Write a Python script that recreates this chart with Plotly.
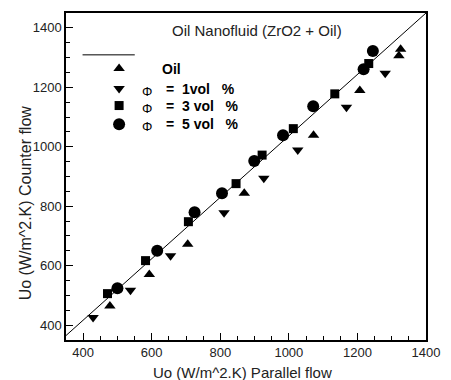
import plotly.graph_objects as go

# Overall heat transfer coefficient Uo (W/m^2.K): parallel flow (x) vs counter flow (y)
oil_x = [478, 593, 705, 870, 1072, 1207, 1321, 1326]
oil_y = [464, 570, 672, 844, 1039, 1189, 1306, 1328]

phi1_x = [429, 538, 655, 811, 927, 1026, 1168, 1281]
phi1_y = [426, 517, 633, 778, 894, 989, 1133, 1247]

phi3_x = [471, 582, 707, 846, 922, 1013, 1134, 1233]
phi3_y = [506, 617, 748, 876, 972, 1061, 1178, 1280]

phi5_x = [500, 616, 725, 805, 899, 983, 1071, 1218, 1245]
phi5_y = [524, 650, 780, 844, 952, 1039, 1136, 1261, 1322]

# reference line across the plot
ref_x = [350, 1400]
ref_y = [365, 1450]

tick_vals = [400, 600, 800, 1000, 1200, 1400]
tick_text = ["400", "600", "800", "1000", "1200", "1400"]

legend_labels = ["Oil", "=  1vol   %", "=  3 vol   %", "=  5 vol   %"]
legend_phi = ["", "\u03a6", "\u03a6", "\u03a6"]

FONT = "Liberation Sans, Arial, sans-serif"

series = [
    (oil_x, oil_y, "triangle-up", 10),
    (phi1_x, phi1_y, "triangle-down", 10),
    (phi3_x, phi3_y, "square", 9),
    (phi5_x, phi5_y, "circle", 12),
]

fig = go.Figure()

fig.add_trace(go.Scatter(
    x=ref_x, y=ref_y, mode="lines",
    line=dict(color="black", width=1), showlegend=False, hoverinfo="skip",
))

for xs, ys, sym, sz in series:
    fig.add_trace(go.Scatter(
        x=xs, y=ys, mode="markers",
        marker=dict(symbol=sym, size=sz, color="black", line=dict(width=0)),
        showlegend=False,
    ))

# hand-built key on a unit overlay axis
key_x = 0.1475
key_rows = [0.830, 0.769, 0.717, 0.660]
for (xs, ys, sym, sz), ky in zip(series, key_rows):
    fig.add_trace(go.Scatter(
        x=[key_x], y=[ky], mode="markers", xaxis="x2", yaxis="y2",
        marker=dict(symbol=sym, size=sz, color="black", line=dict(width=0)),
        showlegend=False, hoverinfo="skip",
    ))

annotations = []
for lab, phi, ky in zip(legend_labels, legend_phi, key_rows):
    if phi:
        annotations.append(dict(
            x=0.224, y=ky - 0.008, xref="paper", yref="paper", text=phi,
            showarrow=False, xanchor="center", yanchor="middle",
            font=dict(family=FONT, size=13, color="black"),
        ))
        lx = 0.272
    else:
        lx = 0.262
    annotations.append(dict(
        x=lx, y=ky, xref="paper", yref="paper", text="<b>%s</b>" % lab,
        showarrow=False, xanchor="left", yanchor="middle",
        font=dict(family=FONT, size=14, color="black"),
    ))

annotations.append(dict(
    x=0.53, y=0.945, xref="paper", yref="paper",
    text="Oil Nanofluid (ZrO2 + Oil)", showarrow=False,
    xanchor="center", yanchor="middle",
    font=dict(family=FONT, size=15, color="#222"),
))
annotations.append(dict(
    x=0.489, y=-0.1, xref="paper", yref="paper",
    text="Uo (W/m^2.K) Parallel flow", showarrow=False,
    xanchor="center", yanchor="middle",
    font=dict(family=FONT, size=15, color="#222"),
))
annotations.append(dict(
    x=-0.112, y=0.42, xref="paper", yref="paper",
    text="Uo (W/m^2.K) Counter flow", showarrow=False, textangle=-90,
    xanchor="center", yanchor="middle",
    font=dict(family=FONT, size=16, color="#222"),
))

axis_common = dict(
    tickmode="array", tickvals=tick_vals, ticktext=tick_text,
    ticks="inside", ticklen=7, tickwidth=1, tickcolor="black",
    minor=dict(dtick=50, ticks="inside", ticklen=4, tickwidth=1, tickcolor="black"),
    showline=True, linecolor="black", linewidth=1.5, mirror=True,
    showgrid=False, zeroline=False,
    tickfont=dict(family=FONT, size=13, color="#222"),
)

fig.update_layout(
    width=451, height=380,
    margin=dict(l=66, r=19, t=11, b=40),
    plot_bgcolor="white", paper_bgcolor="white",
    xaxis=dict(range=[350, 1400], **axis_common),
    yaxis=dict(range=[350, 1450], **axis_common),
    xaxis2=dict(range=[0, 1], overlaying="x", visible=False, anchor="y2"),
    yaxis2=dict(range=[0, 1], overlaying="y", visible=False, anchor="x2"),
    annotations=annotations,
    shapes=[dict(type="line", xref="paper", yref="paper",
                 x0=0.046, x1=0.191, y0=0.872, y1=0.872,
                 line=dict(color="black", width=1))],
    showlegend=False,
)

fig.write_html("out.html")
